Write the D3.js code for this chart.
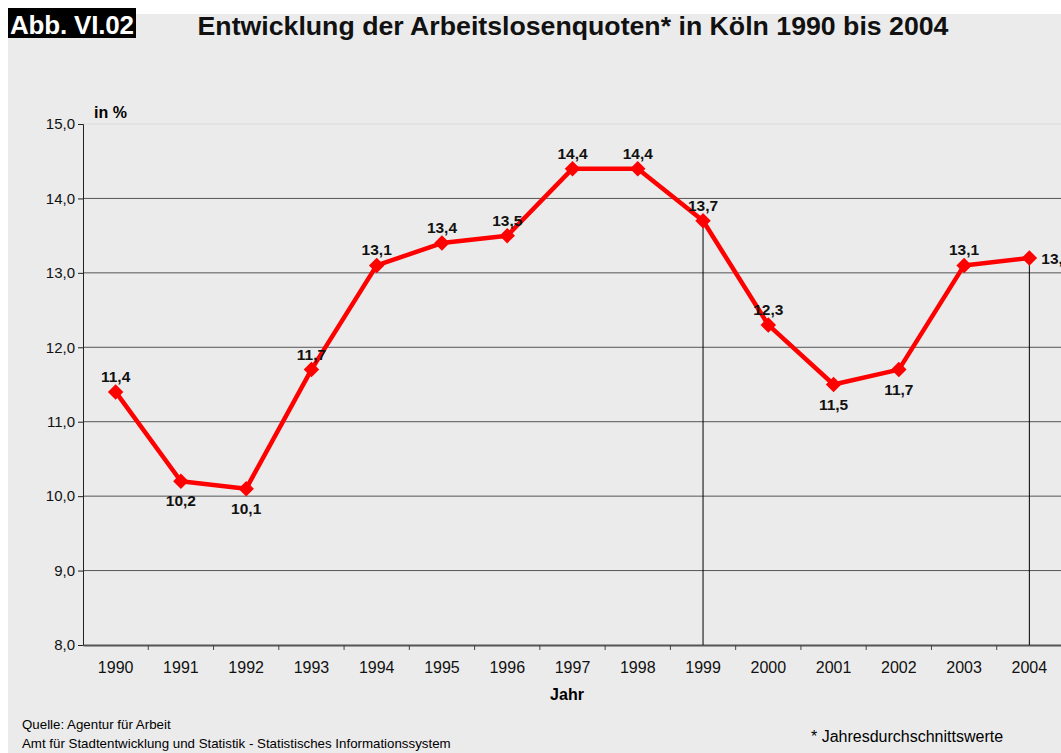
<!DOCTYPE html>
<html>
<head>
<meta charset="utf-8">
<script src="https://cdn.jsdelivr.net/npm/d3@7"></script>
<style>
  body { margin: 0; background: #fff; }
  svg { font-family: "Liberation Sans", Arial, sans-serif; display: block; }
</style>
</head>
<body>
<div id="chart"></div>
<script>
const years = ["1990","1991","1992","1993","1994","1995","1996","1997","1998","1999","2000","2001","2002","2003","2004"];
const quoten = [11.4, 10.2, 10.1, 11.7, 13.1, 13.4, 13.5, 14.4, 14.4, 13.7, 12.3, 11.5, 11.7, 13.1, 13.2];
// label placement: above / below / right
const labelPos = ["up","down","down","up","up","up","up","up","up","up","up","down","down","up","right"];
const yTicks = [8, 9, 10, 11, 12, 13, 14, 15];
const dropYears = ["1999", "2004"];

const width = 1061, height = 753;
const margin = { top: 124, right: -1, bottom: 108, left: 83 };
const fmt = d => d3.format(".1f")(d).replace(".", ",");

const svg = d3.select("#chart").append("svg")
  .attr("width", width).attr("height", height);

svg.append("rect").attr("x", 8).attr("y", 14)
  .attr("width", width - 8).attr("height", height - 14)
  .attr("fill", "#ebebeb");

// title box
svg.append("rect").attr("x", 8).attr("y", 8).attr("width", 128).attr("height", 30).attr("fill", "#000");
svg.append("text").attr("x", 10).attr("y", 34).attr("fill", "#fff")
  .attr("font-size", 26).attr("font-weight", "bold").attr("textLength", 124)
  .text("Abb. VI.02");
svg.append("text").attr("x", 573).attr("y", 35).attr("text-anchor", "middle")
  .attr("font-size", 26.7).attr("font-weight", "bold").attr("fill", "#111")
  .text("Entwicklung der Arbeitslosenquoten* in Köln 1990 bis 2004");

const x = d3.scaleBand().domain(years)
  .range([margin.left, width - margin.right]);
const y = d3.scaleLinear().domain([8, 15])
  .range([height - margin.bottom, margin.top]);

// gridlines
svg.append("g").selectAll("line").data(yTicks.filter(d => d > 8)).join("line")
  .attr("x1", margin.left).attr("x2", width)
  .attr("y1", d => y(d)).attr("y2", d => y(d))
  .attr("stroke", d => d === 15 ? "#dcdcdc" : "#555")
  .attr("stroke-width", 1);

// y axis
const yAxis = svg.append("g").attr("transform", `translate(${margin.left},0)`)
  .call(d3.axisLeft(y).tickValues(yTicks).tickSize(5).tickPadding(3).tickFormat(fmt));
yAxis.select(".domain").attr("stroke", "#222");
yAxis.selectAll(".tick line").attr("stroke", "#222");
yAxis.selectAll("text").attr("font-size", 15).attr("fill", "#111")
  .attr("font-family", "Liberation Sans, Arial, sans-serif");

// x axis
const xAxis = svg.append("g").attr("transform", `translate(0,${y(8)})`)
  .call(d3.axisBottom(x).tickSize(0).tickPadding(0));
xAxis.select(".domain").attr("stroke", "#555").attr("stroke-width", 2);
xAxis.selectAll("text").attr("font-size", 16).attr("fill", "#111")
  .attr("y", 28).attr("dy", null)
  .attr("font-family", "Liberation Sans, Arial, sans-serif");
svg.append("g").selectAll("line").data(years).join("line")
  .attr("x1", d => x(d) + x.bandwidth()).attr("x2", d => x(d) + x.bandwidth())
  .attr("y1", y(8)).attr("y2", y(8) + 5)
  .attr("stroke", "#444");

svg.append("text").attr("x", 567).attr("y", 700).attr("text-anchor", "middle")
  .attr("font-size", 16).attr("font-weight", "bold").text("Jahr");
svg.append("text").attr("x", 94).attr("y", 118)
  .attr("font-size", 16).attr("font-weight", "bold").text("in %");

const cx = d => x(d) + x.bandwidth() / 2;

// drop lines
svg.append("g").selectAll("line").data(dropYears).join("line")
  .attr("x1", d => cx(d)).attr("x2", d => cx(d))
  .attr("y1", d => y(quoten[years.indexOf(d)])).attr("y2", y(8))
  .attr("stroke", "#000").attr("stroke-width", 1);

// line
const line = d3.line().x((d, i) => cx(years[i])).y(d => y(d));
svg.append("path").datum(quoten).attr("d", line)
  .attr("fill", "none").attr("stroke", "#ff0000").attr("stroke-width", 4.5)
  .attr("stroke-linejoin", "round");

svg.append("g").selectAll("path").data(quoten).join("path")
  .attr("d", d3.symbol().type(d3.symbolSquare).size(120))
  .attr("transform", (d, i) => `translate(${cx(years[i])},${y(d)}) rotate(45)`)
  .attr("fill", "#ff0000");

// value labels
svg.append("g").selectAll("text").data(quoten).join("text")
  .attr("x", (d, i) => labelPos[i] === "right" ? cx(years[i]) + 12 : cx(years[i]))
  .attr("y", (d, i) => labelPos[i] === "up" ? y(d) - 10 : labelPos[i] === "down" ? y(d) + 25 : y(d) + 6)
  .attr("text-anchor", (d, i) => labelPos[i] === "right" ? "start" : "middle")
  .attr("font-size", 15.5).attr("font-weight", "bold").attr("fill", "#111")
  .text(fmt);

// footer
svg.append("text").attr("x", 22).attr("y", 729).attr("font-size", 13.3)
  .text("Quelle: Agentur für Arbeit");
svg.append("text").attr("x", 22).attr("y", 748).attr("font-size", 13.3)
  .text("Amt für Stadtentwicklung und Statistik - Statistisches Informationssystem");
svg.append("text").attr("x", 811).attr("y", 742).attr("font-size", 16)
  .text("* Jahresdurchschnittswerte");
</script>
</body>
</html>
